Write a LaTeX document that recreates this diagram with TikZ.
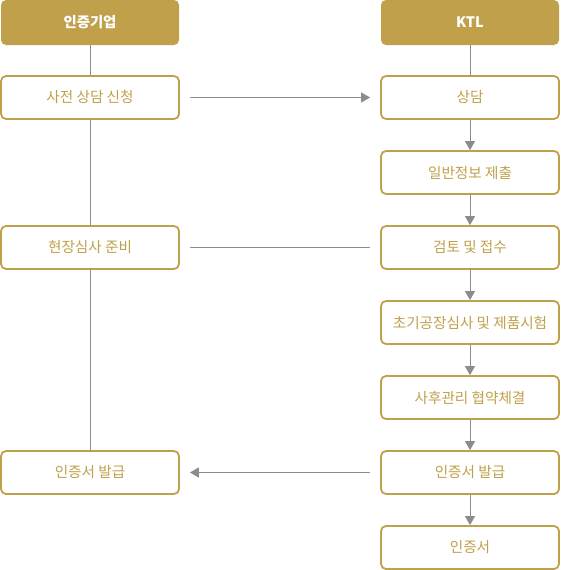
\documentclass[tikz,border=0pt]{standalone}
\usepackage{fontspec}
\setmainfont{Noto Sans CJK KR}
\usetikzlibrary{arrows.meta}
\definecolor{ktlgold}{HTML}{C0A04A}
\definecolor{lineg}{HTML}{8C8C8C}

\begin{document}
\begin{tikzpicture}[
        x=1pt, y=-1pt,
        every node/.style={rounded corners=5pt, align=center, minimum width=178pt, minimum height=43pt, font=\fontsize{14.6pt}{17pt}\selectfont, inner sep=0pt},
        head/.style={fill=ktlgold, text=white, minimum height=45pt, font=\fontsize{14.4pt}{17pt}\selectfont\bfseries},
        stepbox/.style={draw=ktlgold, line width=1.8pt, fill=white, text=ktlgold},
        link/.style={draw=lineg, line width=1pt},
        flow/.style={link, -{Triangle[length=9pt,width=10pt]}}
    ]
        \useasboundingbox (0,0) rectangle (560,570);

        % two headers
        \node[head] (firm) at (90,22.5) {인증기업};
        \node[head] (ktl) at (470,22.5) {KTL};

        % left column
        \node[stepbox] (ask) at (90,97.5) {사전 상담 신청};
        \node[stepbox] (prep) at (90,247.5) {현장심사 준비};
        \node[stepbox] (getcert) at (90,472.5) {인증서 발급};

        % right column
        \node[stepbox] (consult) at (470,97.5) {상담};
        \node[stepbox] (info) at (470,172.5) {일반정보 제출};
        \node[stepbox] (review) at (470,247.5) {검토 및 접수};
        \node[stepbox] (audit) at (470,322.5) {초기공장심사 및 제품시험};
        \node[stepbox] (follow) at (470,397.5) {사후관리 협약체결};
        \node[stepbox] (issue) at (470,472.5) {인증서 발급};
        \node[stepbox] (cert) at (470,547.5) {인증서};

        \draw[link] (firm) -- (ask);
        \draw[link] (ask) -- (prep);
        \draw[link] (prep) -- (getcert);
        \draw[link] (ktl) -- (consult);

        \draw[flow] (consult) -- (info);
        \draw[flow] (info) -- (review);
        \draw[flow] (review) -- (audit);
        \draw[flow] (audit) -- (follow);
        \draw[flow] (follow) -- (issue);
        \draw[flow] (issue) -- (cert);

        \draw[flow, shorten <=10pt, shorten >=10pt] (ask) -- (consult);
        \draw[link, shorten <=10pt, shorten >=10pt] (prep) -- (review);
        \draw[flow, shorten <=10pt, shorten >=10pt] (issue) -- (getcert);
    \end{tikzpicture}
\end{document}
